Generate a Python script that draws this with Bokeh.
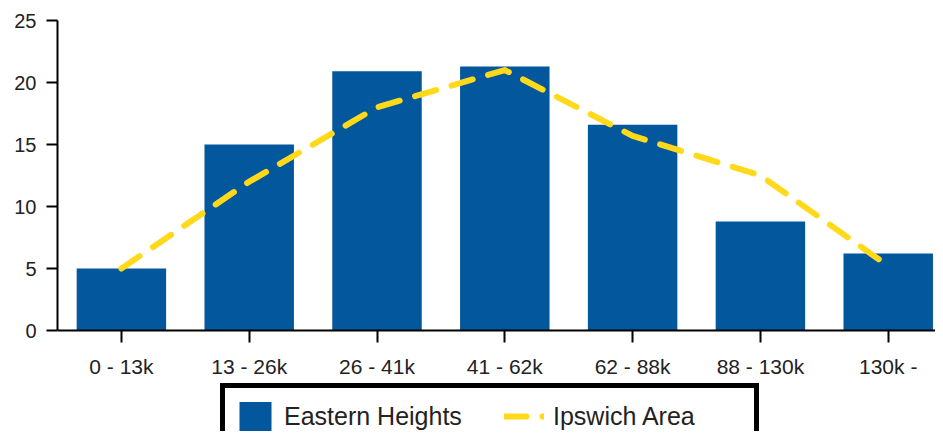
from bokeh.plotting import figure
from bokeh.models import Range1d, FixedTicker, Legend, LegendItem, ColumnDataSource
from bokeh.embed import file_html
from bokeh.resources import INLINE

categories = ["0 - 13k", "13 - 26k", "26 - 41k", "41 - 62k", "62 - 88k", "88 - 130k", "130k -"]
eastern_heights = [5.0, 15.0, 20.9, 21.3, 16.6, 8.8, 6.2]
ipswich_area = [5.0, 12.0, 18.0, 21.0, 15.7, 12.5, 5.2]
y_ticks = [0, 5, 10, 15, 20, 25]

x = list(range(len(categories)))
src = ColumnDataSource(dict(x=x, eh=eastern_heights, ia=ipswich_area))

p = figure(width=935, height=431, output_backend="svg", toolbar_location=None,
           x_range=Range1d(-0.5, 6.370), y_range=Range1d(-8.145, 25),
           min_border_left=57, min_border_top=20, min_border_bottom=0, min_border_right=0)
p.outline_line_color = None
p.xgrid.visible = False
p.ygrid.visible = False
p.background_fill_color = "white"
p.border_fill_color = "white"

bars = p.vbar(x="x", top="eh", bottom=0, width=0.7, source=src,
              fill_color="#03579C", line_color=None)
line = p.line(x="x", y="ia", source=src, line_color="#FFD91A", line_width=6,
              line_dash="22 16", line_cap="round", line_join="round")

font = "Liberation Sans"
for ax in (p.xaxis[0], p.yaxis[0]):
    ax.axis_line_color = "black"
    ax.axis_line_width = 2
    ax.major_tick_line_color = "black"
    ax.major_tick_line_width = 2
    ax.major_tick_in = 0
    ax.minor_tick_line_color = None
    ax.major_label_text_font = font
    ax.major_label_text_color = "#222222"

p.xaxis.fixed_location = 0
p.xaxis.ticker = FixedTicker(ticks=x)
p.xaxis.major_label_overrides = {i: c for i, c in enumerate(categories)}
p.xaxis.major_tick_out = 12
p.xaxis.major_label_standoff = 12
p.xaxis.major_label_text_font_size = "21px"

p.yaxis.ticker = FixedTicker(ticks=y_ticks)
p.yaxis.bounds = (0, 25)
p.yaxis.major_tick_out = 11
p.yaxis.major_label_standoff = 10
p.yaxis.major_label_text_font_size = "20px"

legend = Legend(items=[LegendItem(label="Eastern Heights", renderers=[bars]),
                       LegendItem(label="Ipswich Area", renderers=[line])],
                location=(163, -18), orientation="horizontal",
                glyph_width=40, glyph_height=36, padding=10, spacing=29,
                label_standoff=9, label_width=191,
                label_text_font=font, label_text_font_size="25px", label_text_color="#222222",
                border_line_color="black", border_line_width=5, border_line_alpha=1.0,
                background_fill_color="white", background_fill_alpha=1)
p.add_layout(legend, "center")

open("out.html", "w").write(file_html(p, INLINE))
